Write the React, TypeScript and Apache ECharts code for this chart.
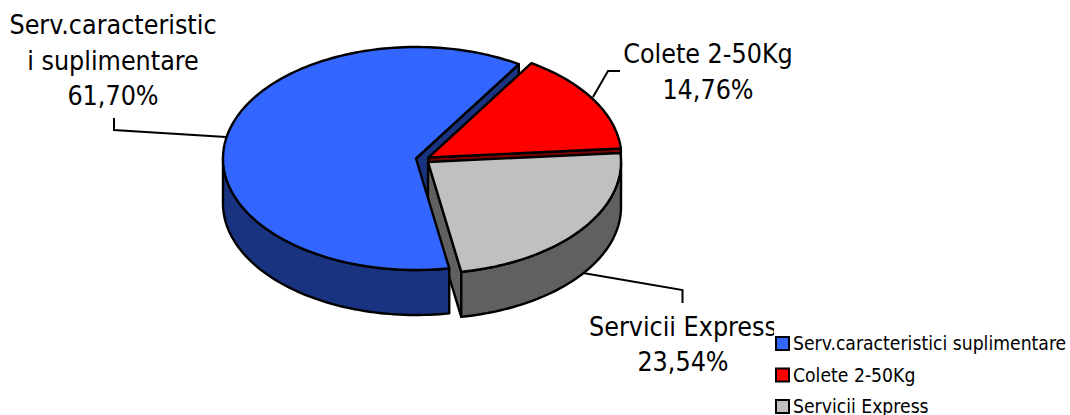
import React, { useEffect, useRef } from "react";
import * as echarts from "echarts";

const categories = ["Serv.caracteristici suplimentare", "Colete 2-50Kg", "Servicii Express"];
const labelNames = ["Serv.caracteristic\ni suplimentare", "Colete 2-50Kg", "Servicii Express"];
const shares = [61.7, 14.76, 23.54];
const topColors = ["#3366FF", "#FF0000", "#C0C0C0"];
const sideColors = ["#1A3380", "#800000", "#606060"];

const FONT = "'DejaVu Sans Condensed', 'DejaVu Sans', sans-serif";
const RX = 193;
const RY = 111.5;
const DEPTH = 45;
const FIRST_ANGLE = 32.2; // where the red slice begins, clockwise from the top
const centers = [
  [416, 158.5],
  [428.5, 157.5],
  [428, 162],
];
const labelPos = [
  [113, 60],
  [708, 71.5],
  [683, 344],
];
const leaders = [
  [[226, 137], [114, 130], [114, 118]],
  [[593, 97], [608, 71], [620, 71]],
  [[583, 273], [682.5, 290], [682.5, 303]],
];

// angular span of each slice, laid out clockwise red → gray → blue
const spanOf = (i: number) => {
  const total = shares.reduce((a, b) => a + b, 0);
  const start = (k: number) => {
    const order = [1, 2, 0];
    let a = FIRST_ANGLE;
    for (const o of order) {
      if (o === k) break;
      a += (shares[o] / total) * 360;
    }
    return a;
  };
  const s = start(i);
  return [s, s + (shares[i] / total) * 360];
};

const rim = (i: number, deg: number, dy = 0) => {
  const t = (deg * Math.PI) / 180;
  return [centers[i][0] + RX * Math.sin(t), centers[i][1] - RY * Math.cos(t) + dy];
};

const arcPts = (i: number, a: number, b: number, dy = 0) => {
  const n = Math.max(2, Math.ceil(Math.abs(b - a) / 1.5));
  const pts: number[][] = [];
  for (let k = 0; k <= n; k++) pts.push(rim(i, a + ((b - a) * k) / n, dy));
  return pts;
};

const line = { stroke: "#000", lineWidth: 2.4, lineJoin: "round" as const };

const endFace = (i: number) => {
  const [, e] = spanOf(i);
  const c = centers[i];
  const r = rim(i, e);
  return {
    type: "polygon",
    shape: { points: [c, r, [r[0], r[1] + DEPTH], [c[0], c[1] + DEPTH]] },
    style: { fill: sideColors[i], ...line },
  };
};

const wall = (i: number) => {
  const [s, e] = spanOf(i);
  const a = Math.max(s, 90);
  const b = Math.min(e, 270);
  if (a >= b) return null;
  const pts = [...arcPts(i, a, b), ...arcPts(i, a, b, DEPTH).reverse()];
  return { type: "polygon", shape: { points: pts }, style: { fill: sideColors[i], ...line } };
};

const top = (i: number) => {
  const [s, e] = spanOf(i);
  return {
    type: "polygon",
    shape: { points: [centers[i], ...arcPts(i, s, e)] },
    style: { fill: topColors[i], ...line },
  };
};

const annotation = (i: number, value: number) => [
  { type: "polyline", shape: { points: leaders[i] }, style: { fill: "none", stroke: "#000", lineWidth: 2 } },
  {
    type: "text",
    style: {
      text: `${labelNames[i]}\n${value.toFixed(2).replace(".", ",")}%`,
      x: labelPos[i][0],
      y: labelPos[i][1],
      align: "center",
      verticalAlign: "middle",
      textAlign: "center",
      textVerticalAlign: "middle",
      fontSize: 26.6,
      lineHeight: 35.5,
      fontFamily: FONT,
      fill: "#000",
    },
  },
];

const sliceSeries = (i: number, parts: string) => ({
  type: "custom",
  name: categories[i],
  coordinateSystem: "none",
  silent: true,
  data: [[shares[i]]],
  itemStyle: { color: topColors[i] },
  renderItem: (_p: any, api: any) => {
    const v = api.value(0);
    const children: any[] = [];
    if (parts.includes("face")) children.push(endFace(i));
    if (parts.includes("wall")) {
      const w = wall(i);
      if (w) children.push(w);
    }
    if (parts.includes("top")) children.push(top(i));
    if (parts.includes("note")) children.push(...annotation(i, v));
    return { type: "group", children };
  },
});

export default function App() {
  const ref = useRef<HTMLDivElement>(null);
  useEffect(() => {
    const chart = echarts.init(ref.current!, null, { renderer: "svg" });
    chart.setOption({
      animation: false,
      backgroundColor: "#fff",
      legend: {
        orient: "vertical",
        left: 774,
        top: 318,
        height: 130,
        padding: [15, 0, 0, 1],
        backgroundColor: "#fff",
        itemWidth: 13,
        itemHeight: 13,
        itemGap: 10.5,
        selectedMode: false,
        textStyle: { fontFamily: FONT, fontSize: 19.2, color: "#000", padding: [0, 0, 0, -1], lineHeight: 21 },
        data: categories.map((name, i) => ({
          name,
          icon: "rect",
          itemStyle: { color: topColors[i], borderColor: "#000", borderWidth: 2 },
        })),
      },
      series: [
        sliceSeries(0, "face"),
        sliceSeries(1, "face,top,note"),
        sliceSeries(2, "face,wall,top,note"),
        sliceSeries(0, "wall,top,note"),
      ],
    });
    return () => chart.dispose();
  }, []);
  return <div ref={ref} style={{ position: "fixed", left: 0, top: 0, width: 1070, height: 415 }} />;
}
